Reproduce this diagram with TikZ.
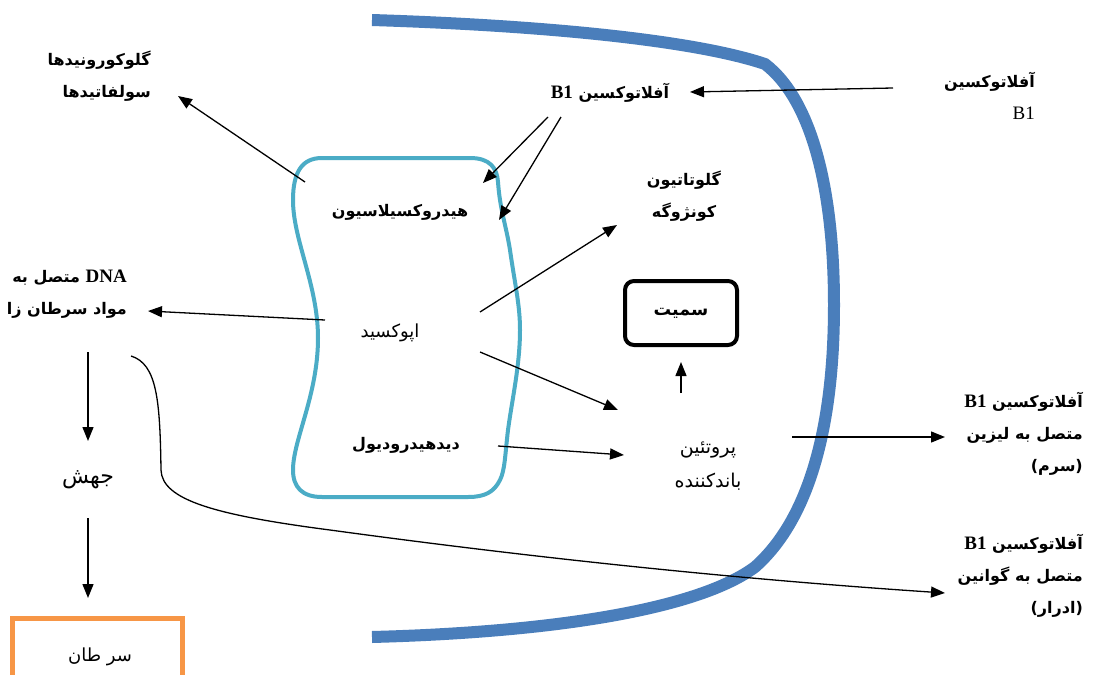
\documentclass[tikz,border=0pt]{standalone}
\usepackage{fontspec}
\setmainfont{Liberation Serif}
\newfontfamily\fa[Script=Arabic]{DejaVu Sans}
\TeXXeTstate=1
\usetikzlibrary{arrows.meta}
\definecolor{membrane}{RGB}{74,126,187}
\definecolor{ercol}{RGB}{75,172,198}
\definecolor{cancercol}{RGB}{247,150,70}
% right-to-left Persian run, and left-to-right Latin run inside it
\newcommand{\farsi}[1]{{\fa\beginR #1\endR}}
\newcommand{\lat}[1]{{\rmfamily\fontsize{19}{32}\selectfont\beginL #1\endL}}
\tikzset{
  fab/.style={font=\fa\bfseries\fontsize{16}{32}\selectfont, inner sep=0pt},
  far/.style={font=\fa\fontsize{18}{33}\selectfont, inner sep=0pt},
  arr/.style={line width=1.3pt, -{Triangle[length=14pt,width=11pt]}},
}
\begin{document}
\begin{tikzpicture}[x=1pt,y=-1pt]
\useasboundingbox (0,0) rectangle (1104,675);
\fill[white] (0,0) rectangle (1104,675);

% cell membrane
\draw[membrane, line width=12pt]
  (372,20) .. controls (560,26) and (700,42) .. (765,64)
  .. controls (812,100) and (834,190) .. (834,305)
  .. controls (834,430) and (808,520) .. (755,567)
  .. controls (700,608) and (560,632) .. (372,637);

% endoplasmic reticulum
\draw[ercol, line width=4pt, line join=round]
  (322,158) -- (470,158) .. controls (490,158) and (497,168) .. (498,182)
  .. controls (500,210) and (506,225) .. (510,250)
  .. controls (515,285) and (520,305) .. (520,330)
  .. controls (520,365) and (512,400) .. (508,430)
  .. controls (505,455) and (505,470) .. (500,480)
  .. controls (494,492) and (485,497) .. (468,497)
  -- (322,497) .. controls (302,497) and (293,487) .. (293,470)
  .. controls (293,440) and (318,395) .. (318,338)
  .. controls (318,285) and (293,240) .. (293,200)
  .. controls (293,172) and (302,158) .. (322,158) -- cycle;

% labels
\node[fab, align=right, anchor=east] (gluc) at (151,76)
  {\farsi{گلوکورونیدها}\\\farsi{سولفاتیدها}};
\node[fab] (afl) at (610,93) {\farsi{آفلاتوکسین \lat{B1}}};
\node[fab, align=right, anchor=east] (aflout) at (1035,96)
  {\farsi{آفلاتوکسین}\\{\rmfamily\mdseries\fontsize{19}{32}\selectfont B1}};
\node[fab] (hyd) at (400,212) {\farsi{هیدروکسیلاسیون}};
\node[far] (epo) at (390,333) {\farsi{اپوکسید}};
\node[fab] (diol) at (406,445) {\farsi{دیدهیدرودیول}};
\node[fab, align=right, anchor=east] (dna) at (127,294)
  {\farsi{\lat{DNA} متصل به}\\\farsi{مواد سرطان زا}};
\node[fab, align=center] (glut) at (684,196)
  {\farsi{گلوتاتیون}\\\farsi{کونژوگه}};
\node[far, font=\fa\fontsize{19}{34}\selectfont, align=center] (prot) at (708,466)
  {\farsi{پروتئین}\\\farsi{باندکننده}};
\node[fab, font=\fa\bfseries\fontsize{17.5}{20}\selectfont, draw, line width=4pt,
  rounded corners=9pt, minimum width=112pt, minimum height=64pt] (tox) at (681,313)
  {\farsi{سمیت}};
\node[font=\fa\fontsize{22}{24}\selectfont, inner sep=0pt] (mut) at (88,480) {\farsi{جهش}};
\node[fab, align=right, anchor=east] (lys) at (1083,434)
  {\farsi{آفلاتوکسین \lat{B1}}\\\farsi{متصل به لیزین}\\\farsi{(سرم)}};
\node[fab, align=right, anchor=east] (gua) at (1083,576)
  {\farsi{آفلاتوکسین \lat{B1}}\\\farsi{متصل به گوانین}\\\farsi{(ادرار)}};

% cancer box, running off the lower edge
\draw[cancercol, line width=5pt] (12,690) -- (12,618) -- (182,618) -- (182,690);
\node[font=\fa\fontsize{18}{20}\selectfont, inner sep=0pt] (can) at (100,657) {\farsi{سر طان}};

% connector end points
\coordinate (inA) at (893,88);
\coordinate (aflA) at (690,92);
\coordinate (aflB) at (548,117);
\coordinate (aflC) at (561,117);
\coordinate (hydA) at (483,183);
\coordinate (hydB) at (499,220);
\coordinate (erTL) at (305,182);
\coordinate (glucA) at (178,96);
\coordinate (epoL) at (325,320);
\coordinate (dnaA) at (148,311);
\coordinate (epoR1) at (480,312);
\coordinate (epoR2) at (480,352);
\coordinate (glutA) at (617,225);
\coordinate (protA) at (618,410);
\coordinate (diolR) at (498,446);
\coordinate (protB) at (624,455);
\coordinate (protT) at (681,393);
\coordinate (toxB) at (681,362);
\coordinate (protR) at (792,437);
\coordinate (lysA) at (945,437);
\coordinate (dnaB) at (88,352);
\coordinate (mutT) at (88,441);
\coordinate (mutB) at (88,518);
\coordinate (canT) at (88,598);
\coordinate (dnaC) at (131,356);
\coordinate (guaA) at (945,593);

% connectors
\draw[arr] (inA) -- (aflA);
\draw[arr] (aflB) -- (hydA);
\draw[arr] (aflC) -- (hydB);
\draw[arr] (erTL) -- (glucA);
\draw[arr] (epoL) -- (dnaA);
\draw[arr] (epoR1) -- (glutA);
\draw[arr] (epoR2) -- (protA);
\draw[arr] (diolR) -- (protB);
\draw[arr] (protT) -- (toxB);
\draw[arr] (protR) -- (lysA);
\draw[arr] (dnaB) -- (mutT);
\draw[arr] (mutB) -- (canT);
\draw[arr] (dnaC) .. controls (157,364) and (160,400) .. (161,470)
  .. controls (162,500) and (215,515) .. (330,530)
  .. controls (550,560) and (750,580) .. (guaA);
\end{tikzpicture}
\end{document}
